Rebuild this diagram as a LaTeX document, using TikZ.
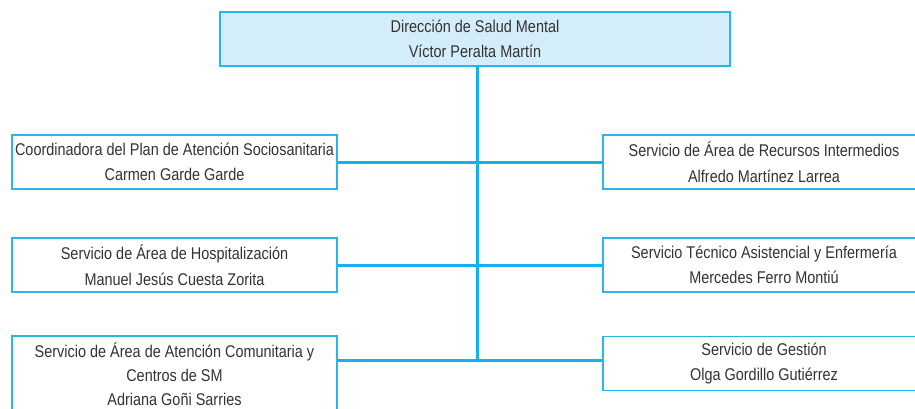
\documentclass[tikz,border=0pt]{standalone}
\usepackage{fontspec}
\setmainfont{Liberation Sans}[FakeStretch=0.85]
\definecolor{boxline}{HTML}{2BB6EA}
\definecolor{connline}{HTML}{12B2EE}
\definecolor{topfill}{HTML}{D4EDFA}
\definecolor{txt}{HTML}{333333}
\begin{document}
\begin{tikzpicture}[x=1pt,y=-1pt,
  box/.style={draw=boxline, line width=1.6pt, fill=white, rectangle, align=center,
    inner sep=0pt, text=txt, font=\fontsize{17}{25.5}\selectfont},
  conn/.style={draw=connline, line width=3pt}]
\useasboundingbox (0,0) rectangle (915,408);
\clip (0,0) rectangle (915,408);
% nodes
\node[box, fill=topfill, minimum width=510pt, minimum height=54pt] (top) at (475,39)
  {Dirección de Salud Mental\\Víctor Peralta Martín};
\node[box, minimum width=325pt, minimum height=54pt] (l1) at (174.5,162)
  {Coordinadora del Plan de Atención Sociosanitaria\\Carmen Garde Garde};
\node[box, minimum width=325pt, minimum height=54pt] (l2) at (174.5,265)
  {Servicio de Área de Hospitalización\\Manuel Jesús Cuesta Zorita};
\node[box, minimum width=325pt, minimum height=76pt, font=\fontsize{17}{24}\selectfont] (l3) at (174.5,374)
  {Servicio de Área de Atención Comunitaria y\\Centros de SM\\Adriana Goñi Sarries};
\node[box, minimum width=322pt, minimum height=54pt] (r1) at (764,162)
  {Servicio de Área de Recursos Intermedios\\Alfredo Martínez Larrea};
\node[box, minimum width=322pt, minimum height=54pt] (r2) at (764,265)
  {Servicio Técnico Asistencial y Enfermería\\Mercedes Ferro Montiú};
\node[box, minimum width=322pt, minimum height=54pt] (r3) at (764,363.5)
  {Servicio de Gestión\\Olga Gordillo Gutiérrez};
% connectors
\coordinate (spinetop) at (477,66);
\coordinate (spinebot) at (477,360);
\draw[conn] (spinetop) -- (spinebot);
\draw[conn] (l1.east) -- (r1.west);
\draw[conn] (l2.east) -- (r2.west);
\draw[conn] (l3.east |- spinebot) -- (r3.west |- spinebot);
\end{tikzpicture}
\end{document}
